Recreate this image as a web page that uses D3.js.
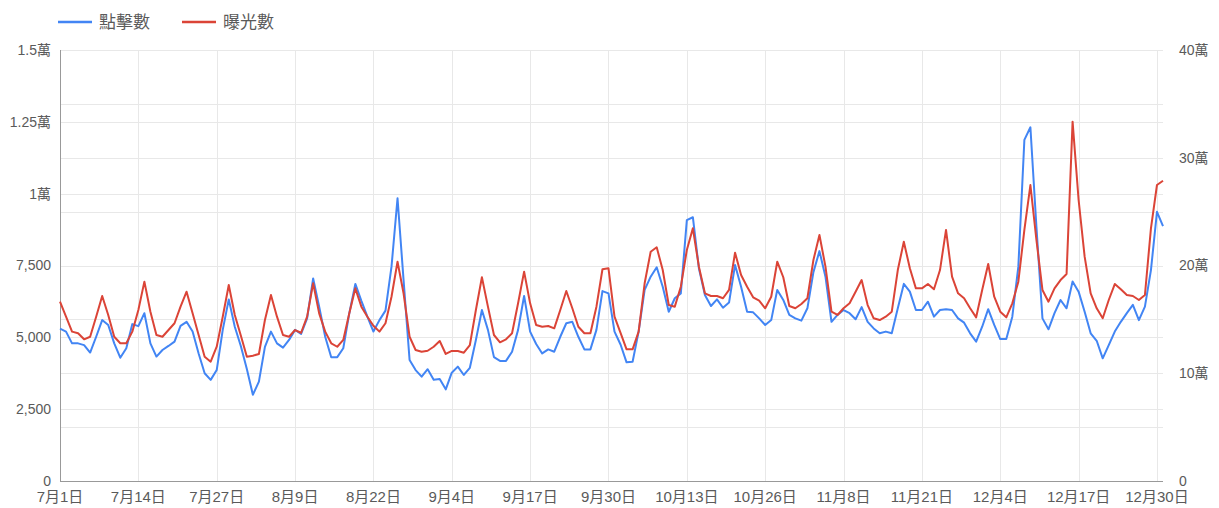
<!DOCTYPE html>
<html>
<head>
<meta charset="utf-8">
<script src="https://cdn.jsdelivr.net/npm/d3@7"></script>
<style>
  body { margin: 0; background: #fff; }
  svg { display: block; font-family: Arial, "Liberation Sans", "Noto Sans CJK TC", sans-serif; }
</style>
</head>
<body>
<svg id="chart"></svg>
<script>
// 7月1日 .. 12月31日, one value per day
const seriesNames = ['點擊數', '曝光數'];

const clicks = [
  5300, 5200, 4790, 4790, 4730, 4470, 5020, 5600, 5430, 4790,
  4290, 4620, 5460, 5390, 5840, 4790, 4330, 4560, 4700, 4850,
  5400, 5540, 5200, 4440, 3750, 3520, 3860, 5260, 6320, 5370,
  4700, 3900, 3000, 3460, 4670, 5200, 4790, 4640, 4910, 5260,
  5120, 5660, 7050, 6070, 5020, 4310, 4310, 4620, 5840, 6860,
  6270, 5720, 5200, 5600, 5930, 7460, 9840, 7000, 4210, 3860,
  3630, 3890, 3520, 3550, 3190, 3770, 3980, 3690, 3940, 4910,
  5950, 5260, 4310, 4180, 4180, 4500, 5260, 6440, 5200, 4770,
  4440, 4580, 4500, 5020, 5490, 5540, 5020, 4580, 4580, 5260,
  6610, 6530, 5200, 4750, 4130, 4150, 5200, 6650, 7110, 7440,
  6760, 5890, 6360, 6530, 9080, 9180, 7400, 6470, 6090, 6320,
  6030, 6210, 7520, 6760, 5890, 5870, 5660, 5430, 5600, 6650,
  6300, 5780, 5660, 5580, 6010, 7270, 8000, 7110, 5540, 5780,
  5950, 5840, 5630, 6050, 5540, 5310, 5140, 5200, 5140, 6010,
  6860, 6590, 5950, 5950, 6240, 5720, 5950, 5980, 5950, 5660,
  5510, 5140, 4850, 5370, 5980, 5430, 4940, 4940, 5720, 7460,
  11870, 12310, 8850, 5660, 5280, 5840, 6300, 6010, 6940, 6590,
  5890, 5140, 4880, 4270, 4730, 5200, 5540, 5840, 6130, 5600,
  6070, 7340, 9370, 8870
];

const impressions = [
  166400, 152500, 138600, 137100, 131500, 133900, 152500, 171700, 154100, 133900,
  127800, 127800, 138600, 158700, 185000, 157100, 135500, 133900, 140100, 146400,
  161800, 175700, 155600, 135500, 115400, 110700, 124600, 152500, 181900, 154100,
  135000, 115400, 116300, 117900, 149400, 172600, 152500, 135500, 133900, 140100,
  137600, 152500, 183500, 155600, 138600, 127800, 124600, 130900, 155600, 178800,
  161800, 152500, 144100, 138600, 146400, 171000, 203500, 174200, 133900, 121600,
  120000, 120900, 124600, 129900, 117900, 120700, 120700, 119100, 126200, 158700,
  189100, 161800, 135500, 128700, 131500, 137100, 164900, 194300, 164900, 144800,
  143200, 143900, 141700, 158700, 176300, 160300, 143200, 137100, 137100, 161800,
  196500, 197400, 152500, 137400, 122200, 122200, 138600, 183500, 212800, 216900,
  195800, 163300, 161800, 180300, 214400, 234500, 198900, 174200, 171700, 171700,
  169600, 177300, 211900, 191200, 180300, 170500, 167300, 160300, 171000, 203500,
  189100, 162400, 160300, 164300, 169600, 205100, 228300, 198900, 157100, 154100,
  160300, 164900, 175700, 186500, 163300, 151000, 149400, 152500, 157100, 195800,
  222100, 197400, 178800, 178800, 182800, 177900, 195800, 233000, 189600, 174200,
  169600, 160300, 151900, 177300, 201400, 171000, 157100, 151900, 164900, 185000,
  233000, 274700, 223700, 177300, 166400, 178800, 186500, 192100, 333500, 260800,
  208200, 174200, 160300, 151000, 168000, 182800, 177900, 172600, 171700, 168000,
  172600, 234500, 274700, 278700
];

// x ticks every 13 days
const xTickDays = [0, 13, 26, 39, 52, 65, 78, 91, 104, 117, 130, 143, 156, 169, 182];
const xTickLabels = ['7月1日', '7月14日', '7月27日', '8月9日', '8月22日', '9月4日', '9月17日',
  '9月30日', '10月13日', '10月26日', '11月8日', '11月21日', '12月4日', '12月17日', '12月30日'];

const leftTicks = [0, 2500, 5000, 7500, 10000, 12500, 15000];
const leftTickLabels = ['0', '2,500', '5,000', '7,500', '1萬', '1.25萬', '1.5萬'];
const rightTicks = [0, 100000, 200000, 300000, 400000];
const rightTickLabels = ['0', '10萬', '20萬', '30萬', '40萬'];
const rightGrid = [50000, 150000, 250000, 350000];

const width = 1219;
const height = 508;
const marginTop = 50;
const marginLeft = 60;
const marginRight = 56;
const marginBottom = 27;

const blue = '#4285f4';
const red = '#db4437';
const textColor = '#5a5a5a';

const svg = d3.select('#chart').attr('width', width).attr('height', height);

const x = d3.scaleLinear()
  .domain([0, clicks.length - 1])
  .range([marginLeft, width - marginRight]);

const yLeft = d3.scaleLinear().domain([0, 15000]).range([height - marginBottom, marginTop]);
const yRight = d3.scaleLinear().domain([0, 400000]).range([height - marginBottom, marginTop]);

// gridlines
const grid = svg.append('g').attr('stroke', '#e8e8e8').attr('stroke-width', 1);
grid.selectAll('.gl')
  .data(leftTicks.slice(1))
  .join('line')
  .attr('x1', marginLeft).attr('x2', width - marginRight)
  .attr('y1', (d) => Math.round(yLeft(d)) + 0.5)
  .attr('y2', (d) => Math.round(yLeft(d)) + 0.5);
grid.selectAll('.gr')
  .data(rightTicks.slice(1).concat(rightGrid))
  .join('line')
  .attr('x1', marginLeft).attr('x2', width - marginRight)
  .attr('y1', (d) => Math.round(yRight(d)) + 0.5)
  .attr('y2', (d) => Math.round(yRight(d)) + 0.5);
grid.selectAll('.gx')
  .data(xTickDays.slice(1))
  .join('line')
  .attr('x1', (d) => Math.round(x(d)) + 0.5)
  .attr('x2', (d) => Math.round(x(d)) + 0.5)
  .attr('y1', marginTop).attr('y2', height - marginBottom);

// axis lines
svg.append('line')
  .attr('x1', marginLeft + 0.5).attr('x2', marginLeft + 0.5)
  .attr('y1', marginTop).attr('y2', height - marginBottom)
  .attr('stroke', '#999');
svg.append('line')
  .attr('x1', marginLeft).attr('x2', width - marginRight)
  .attr('y1', height - marginBottom + 0.5).attr('y2', height - marginBottom + 0.5)
  .attr('stroke', '#999');

// tick labels
svg.append('g')
  .attr('font-size', 14).attr('fill', textColor).attr('text-anchor', 'end')
  .selectAll('text')
  .data(leftTicks)
  .join('text')
  .attr('x', marginLeft - 9)
  .attr('y', (d) => yLeft(d))
  .attr('dy', '0.35em')
  .text((d, i) => leftTickLabels[i]);

svg.append('g')
  .attr('font-size', 14).attr('fill', textColor).attr('text-anchor', 'start')
  .selectAll('text')
  .data(rightTicks)
  .join('text')
  .attr('x', width - marginRight + 16)
  .attr('y', (d) => yRight(d))
  .attr('dy', '0.35em')
  .text((d, i) => rightTickLabels[i]);

svg.append('g')
  .attr('font-size', 15).attr('fill', textColor).attr('text-anchor', 'middle')
  .selectAll('text')
  .data(xTickDays)
  .join('text')
  .attr('x', (d) => x(d))
  .attr('y', height - 11)
  .attr('dy', '0.35em')
  .text((d, i) => xTickLabels[i]);

// lines
const lineLeft = d3.line().x((d, i) => x(i)).y((d) => yLeft(d));
const lineRight = d3.line().x((d, i) => x(i)).y((d) => yRight(d));

svg.append('path')
  .datum(clicks)
  .attr('fill', 'none').attr('stroke', blue).attr('stroke-width', 2)
  .attr('stroke-linejoin', 'round')
  .attr('d', lineLeft);

svg.append('path')
  .datum(impressions)
  .attr('fill', 'none').attr('stroke', red).attr('stroke-width', 2)
  .attr('stroke-linejoin', 'round')
  .attr('d', lineRight);

// legend
const legend = svg.append('g')
  .selectAll('g')
  .data(seriesNames)
  .join('g')
  .attr('transform', (d, i) => `translate(${58 + i * 124},22)`);

legend.append('line')
  .attr('x1', 0).attr('x2', 34)
  .attr('stroke', (d, i) => (i === 0 ? blue : red))
  .attr('stroke-width', 2.5);

legend.append('text')
  .attr('x', 41)
  .attr('dy', '0.35em')
  .attr('font-size', 17)
  .attr('fill', textColor)
  .text((d) => d);
</script>
</body>
</html>
